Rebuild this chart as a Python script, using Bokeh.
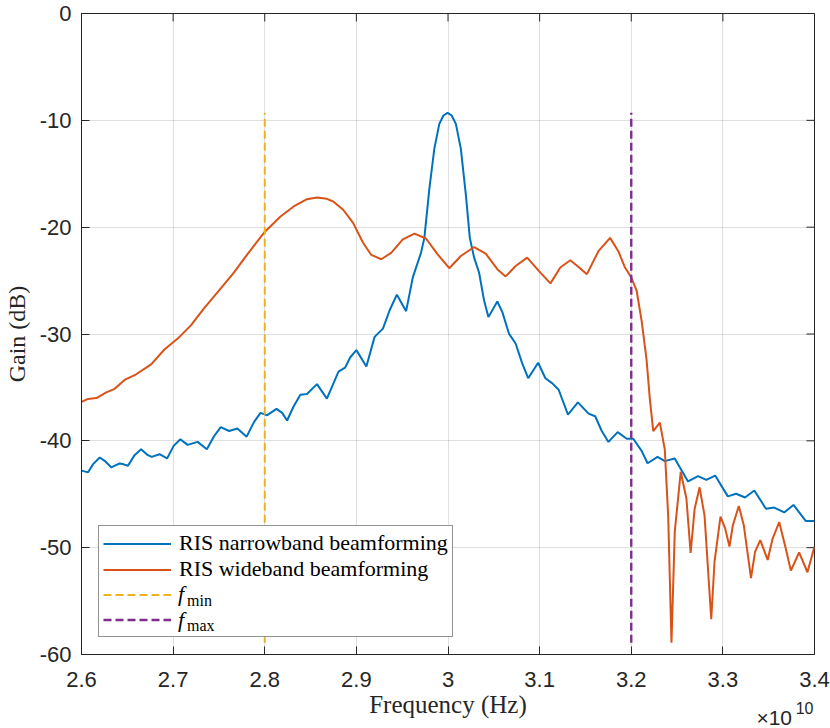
import math
from bokeh.plotting import figure
from bokeh.models import FixedTicker, Legend, LegendItem, Range1d, Title
from bokeh.embed import file_html
from bokeh.resources import INLINE

# ---------------- data (frequency in units of 1e10 Hz, gain in dB) ----------------
narrow_freq = [
    2.6000, 2.6072, 2.6127, 2.6199, 2.6253, 2.6326, 2.6370, 2.6416, 2.6460, 2.6507,
    2.6579, 2.6651, 2.6724, 2.6767, 2.6851, 2.6934, 2.7006, 2.7079, 2.7158, 2.7267,
    2.7368, 2.7448, 2.7520, 2.7611, 2.7701, 2.7802, 2.7882, 2.7954, 2.8027, 2.8128,
    2.8190, 2.8244, 2.8316, 2.8389, 2.8461, 2.8570, 2.8678, 2.8751, 2.8805, 2.8877,
    2.8932, 2.9000, 2.9109, 2.9199, 2.9290, 2.9362, 2.9442, 2.9543, 2.9616, 2.9706,
    2.9742, 2.9797, 2.9851, 2.9905, 2.9950, 2.9996, 3.0040, 3.0086, 3.0140, 3.0195,
    3.0238, 3.0285, 3.0339, 3.0394, 3.0441, 3.0538, 3.0593, 3.0665, 3.0738, 3.0810,
    3.0875, 3.0984, 3.1063, 3.1136, 3.1208, 3.1309, 3.1418, 3.1534, 3.1606, 3.1678,
    3.1751, 3.1852, 3.1950, 3.2022, 3.2113, 3.2178, 3.2287, 3.2366, 3.2474, 3.2620,
    3.2729, 3.2819, 3.2916, 3.3054, 3.3144, 3.3242, 3.3343, 3.3470, 3.3560, 3.3669,
    3.3771, 3.3904, 3.4000,
]
narrow_gain = [
    -42.79, -42.95, -42.18, -41.56, -41.87, -42.49, -42.30, -42.12, -42.20, -42.33,
    -41.34, -40.79, -41.34, -41.50, -41.25, -41.65, -40.47, -39.86, -40.38, -40.10,
    -40.79, -39.55, -38.71, -39.08, -38.84, -39.61, -38.25, -37.38, -37.60, -37.01,
    -37.38, -38.10, -36.76, -35.68, -35.62, -34.69, -36.05, -34.60, -33.52, -33.15,
    -32.20, -31.51, -33.05, -30.27, -29.50, -27.80, -26.32, -27.86, -24.70, -22.38,
    -21.00, -16.36, -12.65, -10.33, -9.55, -9.30, -9.55, -10.33, -12.65, -16.98,
    -21.00, -22.85, -24.24, -26.87, -28.42, -26.96, -27.95, -29.96, -30.89, -32.75,
    -34.14, -32.69, -34.14, -34.60, -35.22, -37.54, -36.40, -37.45, -37.70, -39.08,
    -40.10, -39.18, -39.80, -39.80, -40.94, -42.10, -41.50, -41.90, -41.65, -43.80,
    -43.30, -43.65, -43.25, -45.20, -44.95, -45.30, -44.65, -46.35, -46.25, -46.70,
    -46.00, -47.50, -47.50,
]

wide_freq = [
    2.6000, 2.6072, 2.6163, 2.6271, 2.6362, 2.6470, 2.6597, 2.6760, 2.6905, 2.7050,
    2.7194, 2.7339, 2.7484, 2.7665, 2.7810, 2.7991, 2.8172, 2.8316, 2.8461, 2.8570,
    2.8678, 2.8747, 2.8856, 2.8964, 2.9073, 2.9163, 2.9272, 2.9380, 2.9507, 2.9634,
    2.9760, 2.9887, 3.0014, 3.0140, 3.0285, 3.0412, 3.0538, 3.0629, 3.0738, 3.0864,
    3.0991, 3.1118, 3.1226, 3.1335, 3.1425, 3.1516, 3.1642, 3.1769, 3.1859, 3.1932,
    3.1997, 3.2059, 3.2113, 3.2167, 3.2203, 3.2240, 3.2312, 3.2366, 3.2403, 3.2439,
    3.2475, 3.2540, 3.2602, 3.2648, 3.2692, 3.2746, 3.2800, 3.2873, 3.2909, 3.2974,
    3.3025, 3.3072, 3.3109, 3.3174, 3.3228, 3.3307, 3.3351, 3.3408, 3.3489, 3.3543,
    3.3615, 3.3687, 3.3742, 3.3832, 3.3923, 3.4000,
]
wide_gain = [
    -36.35, -36.08, -36.00, -35.46, -35.13, -34.30, -33.77, -32.84, -31.45, -30.43,
    -29.19, -27.58, -26.10, -24.24, -22.54, -20.53, -19.00, -18.06, -17.38, -17.22,
    -17.35, -17.60, -18.37, -19.60, -21.46, -22.60, -23.00, -22.40, -21.15, -20.60,
    -21.06, -22.54, -23.84, -22.70, -21.86, -22.48, -23.93, -24.61, -23.63, -22.85,
    -24.09, -25.26, -23.78, -23.10, -23.72, -24.40, -22.25, -21.00, -22.25, -23.78,
    -24.65, -25.95, -28.74, -32.40, -36.10, -39.10, -38.30, -40.80, -47.00, -58.90,
    -48.50, -42.90, -45.40, -50.50, -46.35, -44.35, -47.00, -56.70, -51.30, -47.10,
    -48.20, -49.90, -47.90, -46.10, -47.90, -52.85, -50.40, -49.30, -51.15, -49.15,
    -47.60, -50.10, -52.15, -50.45, -52.30, -49.90,
]

f_min = 2.8
f_max = 3.2

x_ticks = [2.6, 2.7, 2.8, 2.9, 3.0, 3.1, 3.2, 3.3, 3.4]
x_tick_labels = ["2.6", "2.7", "2.8", "2.9", "3", "3.1", "3.2", "3.3", "3.4"]
y_ticks = [-60, -50, -40, -30, -20, -10, 0]
y_tick_labels = ["-60", "-50", "-40", "-30", "-20", "-10", "0"]

series_names = ["RIS narrowband beamforming", "RIS wideband beamforming"]
bound_symbol = "f"
bound_subs = ["min", "max"]
x_multiplier = ["\u00d710", "10"]

# ---------------- styles ----------------
BLUE = "#0072BD"
ORANGE = "#D95319"
YELLOW = "#EDB120"
PURPLE = "#7E2F8E"
AX = "#262626"
SANS = "Liberation Sans"
SERIF = "Liberation Serif"

W, H = 830, 728
BL, BR, BT, BB = 77, 16, 13, 74

p = figure(width=W, height=H, x_range=Range1d(x_ticks[0], x_ticks[-1]),
           y_range=Range1d(y_ticks[0], y_ticks[-1]),
           output_backend="svg", toolbar_location=None,
           min_border_left=BL, min_border_right=BR, min_border_top=BT, min_border_bottom=BB)
p.background_fill_color = "white"
p.border_fill_color = "white"
p.outline_line_color = AX
p.outline_line_width = 1

for ax in (p.xaxis[0], p.yaxis[0]):
    ax.axis_line_color = AX
    ax.major_tick_line_color = AX
    ax.major_tick_in = 8
    ax.major_tick_out = 0
    ax.minor_tick_line_color = None
    ax.major_label_text_color = AX
    ax.major_label_text_font = SANS
    ax.major_label_text_font_size = "22px"
    ax.axis_label_text_font = SERIF
    ax.axis_label_text_font_style = "normal"
    ax.axis_label_text_color = AX

p.xaxis.ticker = FixedTicker(ticks=x_ticks)
p.xaxis.major_label_overrides = dict(zip(x_ticks, x_tick_labels))
p.xaxis.axis_label = "Frequency (Hz)"
p.xaxis.axis_label_text_font_size = "25px"
p.xaxis.major_label_standoff = 17
p.xaxis.axis_label_standoff = 1

p.yaxis.ticker = FixedTicker(ticks=y_ticks)
p.yaxis.major_label_overrides = dict(zip(y_ticks, y_tick_labels))
p.yaxis.axis_label = "Gain (dB)"
p.yaxis.axis_label_text_font_size = "24px"
p.yaxis.major_label_standoff = 10
p.yaxis.axis_label_standoff = 7

p.xgrid.ticker = FixedTicker(ticks=x_ticks)
p.ygrid.ticker = FixedTicker(ticks=y_ticks)
for g in (p.xgrid[0], p.ygrid[0]):
    g.grid_line_color = AX
    g.grid_line_alpha = 0.15
    g.grid_line_width = 1

# inward ticks on the top and right sides of the box
p.ray(x=x_ticks, y=[y_ticks[-1]] * len(x_ticks), length=8, length_units="screen",
      angle=-math.pi / 2, line_color=AX, line_width=1)
p.ray(x=[x_ticks[-1]] * len(y_ticks), y=y_ticks, length=8, length_units="screen",
      angle=math.pi, line_color=AX, line_width=1)

# data
r1 = p.line(narrow_freq, narrow_gain, line_color=BLUE, line_width=2)
r2 = p.line(wide_freq, wide_gain, line_color=ORANGE, line_width=2)
all_gain = narrow_gain + wide_gain
g_lo, g_hi = min(all_gain), max(all_gain)
r3 = p.line([f_min, f_min], [g_lo, g_hi], line_color=YELLOW, line_width=2, line_dash="8 4")
r4 = p.line([f_max, f_max], [g_lo, g_hi], line_color=PURPLE, line_width=2.4, line_dash="8 4")


def text_legend(items, loc, font, size, row, style="normal", color="black"):
    lg = Legend(items=items, location=loc)
    lg.label_text_font = font
    lg.label_text_font_size = size
    lg.label_text_font_style = style
    lg.label_text_color = color
    lg.glyph_width = 0
    lg.glyph_height = row
    lg.label_height = row
    lg.label_standoff = 0
    lg.spacing = 0
    lg.padding = 0
    lg.margin = 0
    lg.border_line_color = None
    lg.background_fill_alpha = 0
    return lg


# main legend box
LEG_X, LEG_Y, PAD, ROW, GW, GS = 17, 17, 4, 25, 68, 8
legend = Legend(items=[
    LegendItem(label=series_names[0], renderers=[r1]),
    LegendItem(label=series_names[1], renderers=[r2]),
    LegendItem(label=" ", renderers=[r3]),
    LegendItem(label=" ", renderers=[r4]),
], location=(LEG_X, LEG_Y))
legend.label_text_font = SERIF
legend.label_text_font_size = "22px"
legend.label_text_color = "black"
legend.glyph_width = GW
legend.glyph_height = ROW
legend.label_height = ROW
legend.label_standoff = GS
legend.spacing = 0
legend.padding = PAD
legend.margin = 0
legend.border_line_color = AX
legend.border_line_width = 1
legend.background_fill_color = "white"
legend.background_fill_alpha = 1
p.add_layout(legend)

# italic f and roman subscripts laid over the two dashed entries
TX = LEG_X + PAD + GW + GS
p.add_layout(text_legend(
    [LegendItem(label=bound_symbol, renderers=[r3]), LegendItem(label=bound_symbol, renderers=[r4])],
    (TX, LEG_Y + PAD), SERIF, "22px", ROW, style="italic"))
p.add_layout(text_legend(
    [LegendItem(label=bound_subs[0], renderers=[r3]), LegendItem(label=bound_subs[1], renderers=[r4])],
    (TX + 9, LEG_Y + PAD - 5), SERIF, "16px", ROW))

# x10^10 multiplier under the right end of the x axis (titles of zero net height)
t1 = Title(text=x_multiplier[0], align="right", vertical_align="top", offset=22.5,
           text_font=SANS, text_font_size="21px", text_font_style="normal", text_color=AX)
t2 = Title(text=x_multiplier[1], align="right", vertical_align="top", offset=1,
           text_font=SANS, text_font_size="16px", text_font_style="normal", text_color=AX)
try:
    t1.standoff = -29
    t2.standoff = -37
except Exception:
    t1.standoff = 0
    t2.standoff = 0
p.add_layout(t1, "below")
p.add_layout(t2, "below")

open("out.html", "w").write(file_html(p, INLINE))
